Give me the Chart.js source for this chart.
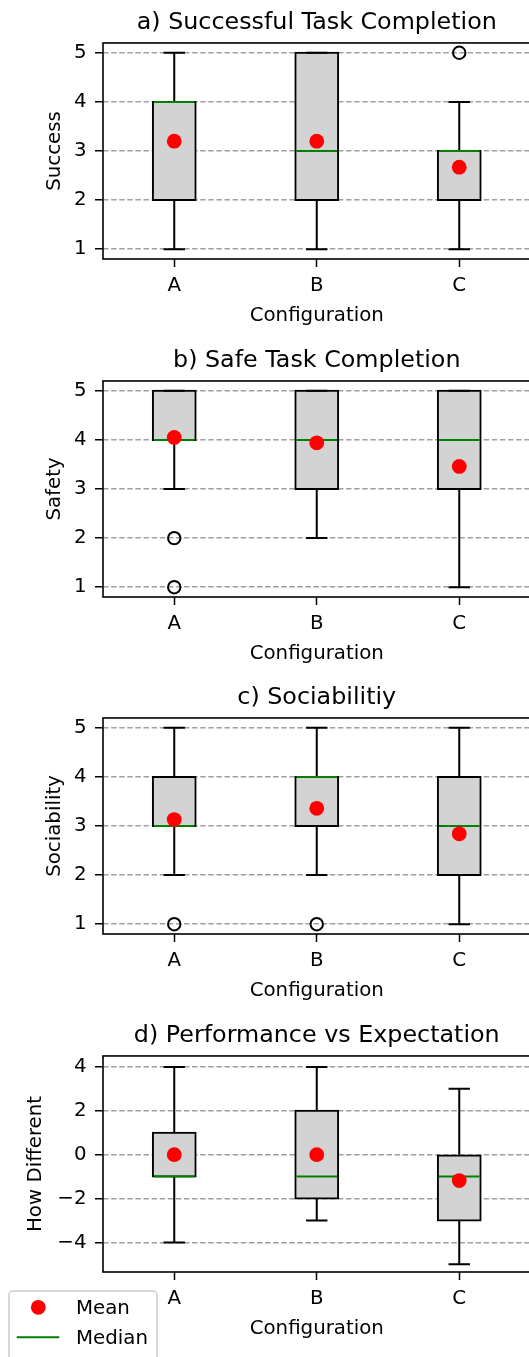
<!DOCTYPE html>
<html>
<head>
<meta charset="utf-8">
<title>Configuration box plots</title>
<script src="https://cdn.jsdelivr.net/npm/chart.js@4.4.0/dist/chart.umd.min.js"></script>
<style>
  html, body { margin: 0; padding: 0; background: #fff; overflow: hidden; }
  #page { position: relative; width: 529px; height: 1357px; overflow: hidden; }
  .panel { position: absolute; left: 0; width: 532px; height: 345px; }
  .panel canvas { display: block; }
</style>
</head>
<body>
<div id="page">
  <div class="panel" style="top:0px"><canvas id="success" width="532" height="345"></canvas></div>
  <div class="panel" style="top:338px"><canvas id="safety" width="532" height="345"></canvas></div>
  <div class="panel" style="top:675px"><canvas id="sociability" width="532" height="345"></canvas></div>
  <div class="panel" style="top:1013px"><canvas id="difference" width="532" height="345"></canvas></div>
</div>
<script>
const configurations = ['A', 'B', 'C'];
const xTitle = 'Configuration';
const legendLabels = ['Mean', 'Median'];

// a) success
const successTicks = [1, 2, 3, 4, 5];
const successTickLabels = ['1', '2', '3', '4', '5'];
const successRange = [0.8, 5.2];
const successQ1 = [2, 2, 2];
const successQ3 = [4, 5, 3];
const successMedian = [4, 3, 3];
const successLow = [1, 1, 1];
const successHigh = [5, 5, 4];
const successMean = [3.2, 3.2, 2.67];
const successOutliers = [{ x: 'C', y: 5 }];

// b) safety
const safetyTicks = [1, 2, 3, 4, 5];
const safetyTickLabels = ['1', '2', '3', '4', '5'];
const safetyRange = [0.8, 5.2];
const safetyQ1 = [4, 3, 3];
const safetyQ3 = [5, 5, 5];
const safetyMedian = [4, 4, 4];
const safetyLow = [3, 2, 1];
const safetyHigh = [5, 5, 5];
const safetyMean = [4.05, 3.94, 3.46];
const safetyOutliers = [{ x: 'A', y: 2 }, { x: 'A', y: 1 }];

// c) sociability
const sociabilityTicks = [1, 2, 3, 4, 5];
const sociabilityTickLabels = ['1', '2', '3', '4', '5'];
const sociabilityRange = [0.8, 5.2];
const sociabilityQ1 = [3, 3, 2];
const sociabilityQ3 = [4, 4, 4];
const sociabilityMedian = [3, 4, 3];
const sociabilityLow = [2, 2, 1];
const sociabilityHigh = [5, 5, 5];
const sociabilityMean = [3.13, 3.36, 2.84];
const sociabilityOutliers = [{ x: 'A', y: 1 }, { x: 'B', y: 1 }];

// d) performance vs expectation
const differenceTicks = [-4, -2, 0, 2, 4];
const differenceTickLabels = ['\u22124', '\u22122', '0', '2', '4'];
const differenceRange = [-5.35, 4.5];
const differenceQ1 = [-1, -2, -3];
const differenceQ3 = [1, 2, 0];
const differenceMedian = [-1, -1, -1];
const differenceLow = [-4, -3, -5];
const differenceHigh = [4, 4, 3];
const differenceMean = [0, 0, -1.18];
const differenceOutliers = [];

const FONT = 'DejaVu Sans';
const MEAN_COLOR = '#ff0000';
const MEDIAN_COLOR = '#008000';

Chart.defaults.font.family = FONT;
Chart.defaults.color = '#000';

// whiskers, caps and median, drawn right after the boxes
const whiskerPlugin = {
  id: 'whiskers',
  afterDatasetDraw(chart, args) {
    if (args.meta.type !== 'bar') return;
    const ds = chart.data.datasets[args.index];
    const { ctx } = chart;
    const x = chart.scales.x, y = chart.scales.y;
    const capHalf = (x.getPixelForValue(1) - x.getPixelForValue(0)) * 0.075;
    ctx.save();
    args.meta.data.forEach((bar, i) => {
      const cx = bar.x;
      const lo = y.getPixelForValue(ds.low[i]);
      const hi = y.getPixelForValue(ds.high[i]);
      const q1 = y.getPixelForValue(ds.data[i][0]);
      const q3 = y.getPixelForValue(ds.data[i][1]);
      ctx.strokeStyle = '#000';
      ctx.lineWidth = 2;
      ctx.beginPath();
      ctx.moveTo(cx, q3); ctx.lineTo(cx, hi);
      ctx.moveTo(cx, q1); ctx.lineTo(cx, lo);
      ctx.moveTo(cx - capHalf, hi); ctx.lineTo(cx + capHalf, hi);
      ctx.moveTo(cx - capHalf, lo); ctx.lineTo(cx + capHalf, lo);
      ctx.stroke();
      const med = y.getPixelForValue(ds.median[i]);
      ctx.strokeStyle = MEDIAN_COLOR;
      ctx.beginPath();
      ctx.moveTo(cx - bar.width / 2 + 1, med); ctx.lineTo(cx + bar.width / 2 - 1, med);
      ctx.stroke();
    });
    ctx.restore();
  },
  afterDatasetsDraw(chart) {
    const { ctx, chartArea: a } = chart;
    ctx.save();
    ctx.strokeStyle = '#000';
    ctx.lineWidth = 1.6;
    ctx.strokeRect(a.left, a.top, a.right - a.left, a.bottom - a.top);
    ctx.restore();
  }
};

const legendPlugin = {
  id: 'boxLegend',
  afterDraw(chart) {
    const { ctx } = chart;
    ctx.save();
    ctx.fillStyle = 'rgba(255,255,255,0.8)';
    ctx.strokeStyle = '#cccccc';
    ctx.lineWidth = 1.5;
    ctx.beginPath();
    ctx.roundRect(9, 278, 148, 90, 4);
    ctx.fill();
    ctx.stroke();
    ctx.fillStyle = MEAN_COLOR;
    ctx.beginPath();
    ctx.arc(38.3, 294.3, 7.4, 0, Math.PI * 2);
    ctx.fill();
    ctx.strokeStyle = MEDIAN_COLOR;
    ctx.lineWidth = 2;
    ctx.beginPath();
    ctx.moveTo(16.7, 324.3); ctx.lineTo(59.3, 324.3);
    ctx.stroke();
    ctx.fillStyle = '#000';
    ctx.font = '19.8px "' + FONT + '"';
    ctx.textBaseline = 'middle';
    ctx.fillText(legendLabels[0], 76, 295.4);
    ctx.fillText(legendLabels[1], 76, 325.4);
    ctx.restore();
  }
};

function makePanel(id, title, yLabel, yTitlePad, ticks, tickLabels, range, q1, q3, median, low, high, mean, outliers, withLegend) {
  return new Chart(document.getElementById(id), {
    type: 'bar',
    data: {
      labels: configurations,
      datasets: [
        {
          type: 'line',
          data: mean,
          showLine: false,
          pointRadius: 7.4,
          pointBackgroundColor: MEAN_COLOR,
          pointBorderWidth: 0,
          order: 0
        },
        {
          type: 'line',
          data: outliers,
          showLine: false,
          pointRadius: 6.2,
          pointBackgroundColor: 'rgba(0,0,0,0)',
          pointBorderColor: '#000',
          pointBorderWidth: 2,
          order: 1
        },
        {
          type: 'bar',
          data: q1.map((v, i) => [v, q3[i]]),
          median: median,
          low: low,
          high: high,
          backgroundColor: '#d3d3d3',
          borderColor: '#000',
          borderWidth: 2,
          borderSkipped: false,
          inflateAmount: 1,
          barPercentage: 0.3,
          categoryPercentage: 1,
          order: 2
        }
      ]
    },
    options: {
      responsive: false,
      animation: false,
      events: [],
      layout: { autoPadding: false, padding: { left: 0, right: 1.5, top: 0, bottom: 6 } },
      plugins: {
        legend: { display: false },
        tooltip: { enabled: false },
        title: {
          display: true,
          text: title,
          fullSize: false,
          color: '#000',
          font: { family: FONT, size: 23.8, weight: 'normal' },
          padding: { top: 8.2, bottom: 6.2 }
        }
      },
      scales: {
        x: {
          type: 'category',
          offset: true,
          afterFit(scale) {
            scale.height = 80;
            scale.paddingLeft = 0;
            scale.paddingRight = 0;
          },
          grid: {
            offset: false,
            drawOnChartArea: false,
            drawTicks: true,
            tickLength: 8,
            tickColor: '#000',
            tickWidth: 1.5
          },
          border: { display: false },
          ticks: { color: '#000', padding: 6.9, font: { family: FONT, size: 19.8 } },
          title: {
            display: true,
            text: xTitle,
            color: '#000',
            font: { family: FONT, size: 19.8 },
            padding: { top: 0, bottom: 11.6 }
          }
        },
        y: {
          min: range[0],
          max: range[1],
          afterFit(scale) { scale.width = 103; },
          afterBuildTicks(scale) { scale.ticks = ticks.map(v => ({ value: v })); },
          grid: {
            color: '#a0a0a0',
            lineWidth: 1.5,
            drawTicks: true,
            tickLength: 8,
            tickColor: '#000',
            tickWidth: 1.5
          },
          border: { display: false, dash: [5.5, 2.6] },
          ticks: {
            color: '#000',
            padding: 8.5,
            font: { family: FONT, size: 19.8 },
            callback: (value, index) => tickLabels[index]
          },
          title: {
            display: true,
            text: yLabel,
            color: '#000',
            font: { family: FONT, size: 19.8 },
            padding: { top: yTitlePad, bottom: 0 }
          }
        }
      }
    },
    plugins: withLegend ? [whiskerPlugin, legendPlugin] : [whiskerPlugin]
  });
}

makePanel('success', 'a) Successful Task Completion', 'Success', 43,
  successTicks, successTickLabels, successRange, successQ1, successQ3, successMedian,
  successLow, successHigh, successMean, successOutliers, false);
makePanel('safety', 'b) Safe Task Completion', 'Safety', 43,
  safetyTicks, safetyTickLabels, safetyRange, safetyQ1, safetyQ3, safetyMedian,
  safetyLow, safetyHigh, safetyMean, safetyOutliers, false);
makePanel('sociability', 'c) Sociabilitiy', 'Sociability', 43,
  sociabilityTicks, sociabilityTickLabels, sociabilityRange, sociabilityQ1, sociabilityQ3, sociabilityMedian,
  sociabilityLow, sociabilityHigh, sociabilityMean, sociabilityOutliers, false);
makePanel('difference', 'd) Performance vs Expectation', 'How Different', 24,
  differenceTicks, differenceTickLabels, differenceRange, differenceQ1, differenceQ3, differenceMedian,
  differenceLow, differenceHigh, differenceMean, differenceOutliers, true);
</script>
</body>
</html>
